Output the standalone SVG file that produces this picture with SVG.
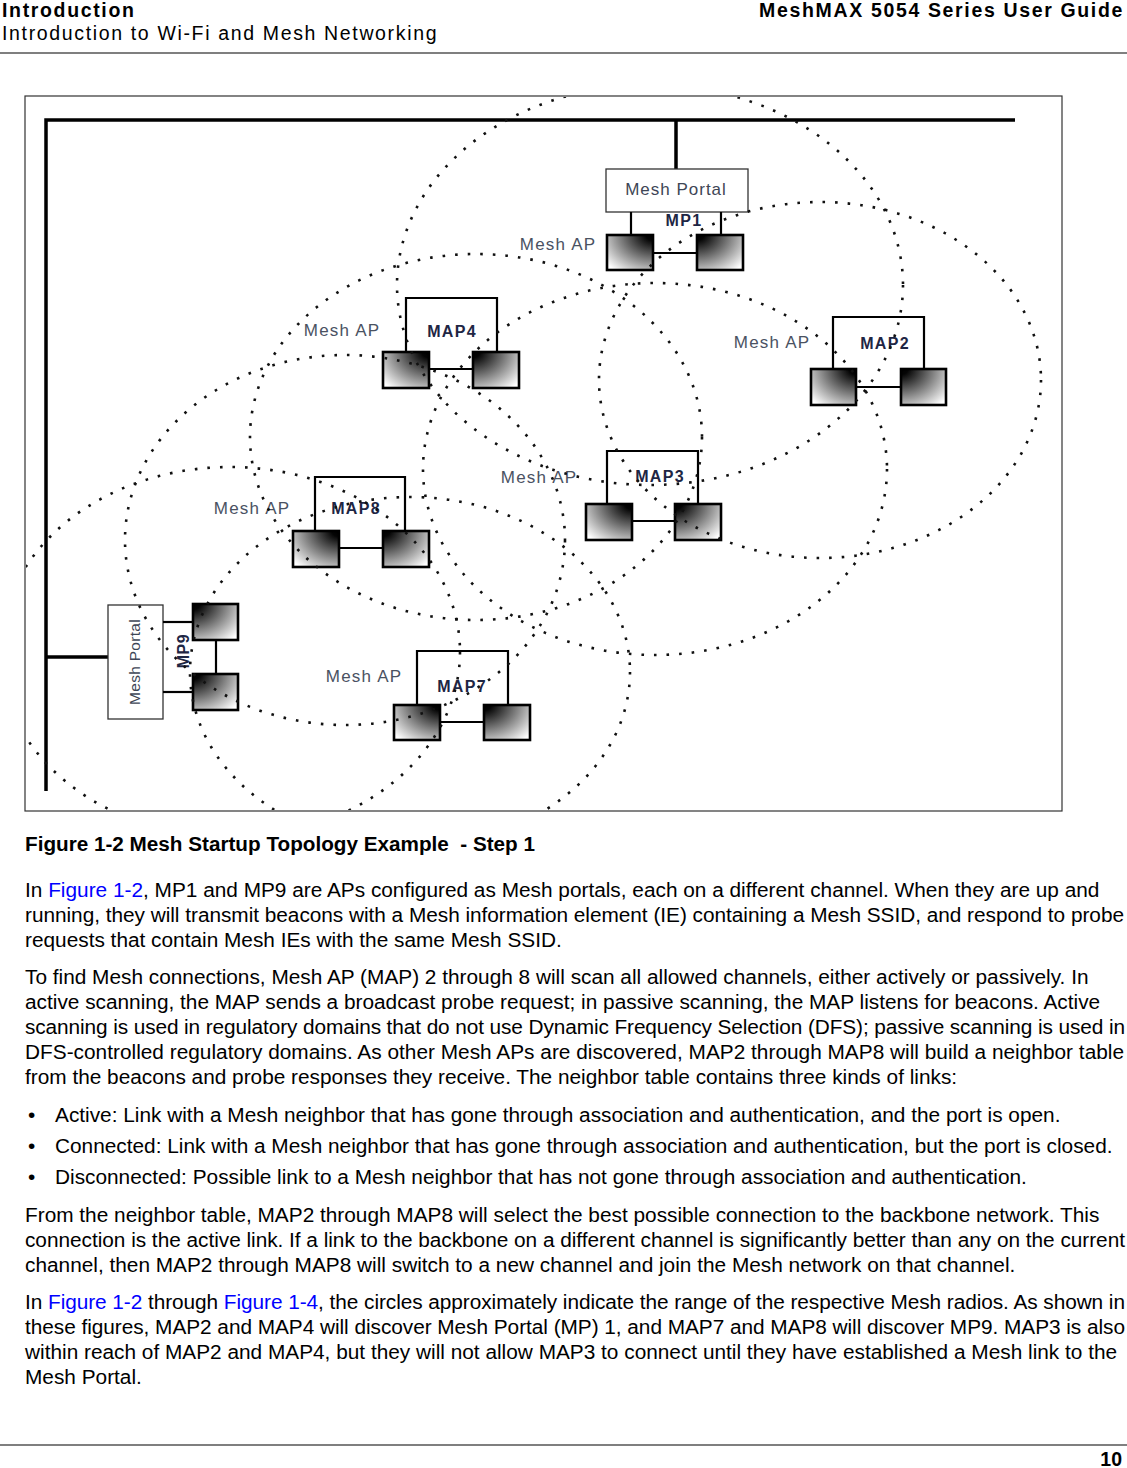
<svg xmlns="http://www.w3.org/2000/svg" width="1127" height="1468" viewBox="0 0 1127 1468">
<style>
.hdr{font-family:"Liberation Sans",Arial,sans-serif;font-size:19.5px;letter-spacing:1.65px;fill:#000}
.b{font-weight:bold}
.body{font-family:"Liberation Sans",Arial,sans-serif;font-size:20.82px;fill:#000}
.link{fill:#0000ff}
.cap{font-family:"Liberation Sans",Arial,sans-serif;font-size:20.7px;font-weight:bold;fill:#000}
.ap{font-family:"Liberation Sans",Arial,sans-serif;font-size:17px;letter-spacing:1.2px;fill:#4a5262;text-anchor:middle}
.portal{font-family:"Liberation Sans",Arial,sans-serif;font-size:17px;letter-spacing:1px;fill:#3e4656;text-anchor:middle}
.nl{font-family:"Liberation Sans",Arial,sans-serif;font-size:16px;font-weight:bold;letter-spacing:1.3px;fill:#1e2644;text-anchor:middle}
.bb{stroke:#000;stroke-width:3.5;fill:none}
.ln{stroke:#000;stroke-width:2.2;fill:none}
.pbox{stroke:#333;stroke-width:1.3;fill:#fff}
.sub{stroke:#000;stroke-width:2.6}
.rng{fill:none;stroke:#111;stroke-width:2.6;stroke-dasharray:2.6 10}
</style>
<defs>
<radialGradient id="gTR" cx="1" cy="0" r="1.3" fx="1" fy="0">
<stop offset="0" stop-color="#000"/>
<stop offset="0.12" stop-color="#050505"/>
<stop offset="1" stop-color="#fff"/>
</radialGradient>
<radialGradient id="gTL" cx="0" cy="0" r="1.3" fx="0" fy="0">
<stop offset="0" stop-color="#000"/>
<stop offset="0.12" stop-color="#050505"/>
<stop offset="1" stop-color="#fff"/>
</radialGradient>
<clipPath id="fig"><rect x="26" y="97" width="1035" height="713"/></clipPath>
</defs>
<rect width="1127" height="1468" fill="#fff"/>

<g id="header">
<text class="hdr b" x="2" y="17">Introduction</text>
<text class="hdr b" x="1124" y="17" text-anchor="end">MeshMAX 5054 Series User Guide</text>
<text class="hdr" x="2" y="40">Introduction to Wi-Fi and Mesh Networking</text>
<line x1="0" y1="53" x2="1127" y2="53" stroke="#000" stroke-width="1.2"/>
</g>

<rect x="25" y="96" width="1037" height="715" fill="#fff" stroke="#333" stroke-width="1.2"/>

<g id="connectors">
<polyline class="bb" points="1015,120 46,120 46,791"/>
<line class="bb" x1="676" y1="120" x2="676" y2="169"/>
<line class="bb" x1="46" y1="657" x2="108" y2="657"/>
</g>

<g id="MP1">
<rect class="pbox" x="606" y="169" width="142" height="43"/>
<text class="portal" x="676" y="195">Mesh Portal</text>
<line class="ln" x1="631" y1="212" x2="631" y2="235"/>
<line class="ln" x1="721" y1="212" x2="721" y2="235"/>
<line class="ln" x1="653" y1="253" x2="697" y2="253"/>
<rect class="sub" x="607" y="235" width="46" height="35" fill="url(#gTR)"/>
<rect class="sub" x="697" y="235" width="46" height="35" fill="url(#gTL)"/>
<text class="nl" x="684" y="226">MP1</text>
<text class="ap" x="558" y="250">Mesh AP</text>
</g>

<g id="MAP4">
<path class="ln" d="M406,352V298H497V352"/>
<line class="ln" x1="429" y1="369" x2="473" y2="369"/>
<rect class="sub" x="383" y="352" width="46" height="36" fill="url(#gTR)"/>
<rect class="sub" x="473" y="352" width="46" height="36" fill="url(#gTL)"/>
<text class="nl" x="452" y="337">MAP4</text>
<text class="ap" x="342" y="336">Mesh AP</text>
</g>

<g id="MAP2">
<path class="ln" d="M833,369V317H924V369"/>
<line class="ln" x1="856" y1="387" x2="901" y2="387"/>
<rect class="sub" x="811" y="369" width="45" height="36" fill="url(#gTR)"/>
<rect class="sub" x="901" y="369" width="45" height="36" fill="url(#gTL)"/>
<text class="nl" x="885" y="349">MAP2</text>
<text class="ap" x="772" y="348">Mesh AP</text>
</g>

<g id="MAP3">
<path class="ln" d="M607,504V451H698V504"/>
<line class="ln" x1="632" y1="521" x2="675" y2="521"/>
<rect class="sub" x="586" y="504" width="46" height="36" fill="url(#gTR)"/>
<rect class="sub" x="675" y="504" width="46" height="36" fill="url(#gTL)"/>
<text class="nl" x="660" y="482">MAP3</text>
<text class="ap" x="539" y="483">Mesh AP</text>
</g>

<g id="MAP8">
<path class="ln" d="M315,531V477H405V531"/>
<line class="ln" x1="339" y1="548" x2="383" y2="548"/>
<rect class="sub" x="293" y="531" width="46" height="36" fill="url(#gTR)"/>
<rect class="sub" x="383" y="531" width="46" height="36" fill="url(#gTL)"/>
<text class="nl" x="356" y="514">MAP8</text>
<text class="ap" x="252" y="514">Mesh AP</text>
</g>

<g id="MP9">
<rect class="pbox" x="108" y="605" width="55" height="114"/>
<text class="portal" x="135" y="667" style="font-size:15.5px;letter-spacing:0.3px" transform="rotate(-90 135 662)">Mesh Portal</text>
<line class="ln" x1="163" y1="622" x2="193" y2="622"/>
<line class="ln" x1="163" y1="692" x2="193" y2="692"/>
<line class="ln" x1="216" y1="640" x2="216" y2="674"/>
<rect class="sub" x="193" y="604" width="45" height="36" fill="url(#gTL)"/>
<rect class="sub" x="193" y="674" width="45" height="36" fill="url(#gTL)"/>
<text class="nl" x="183" y="657" style="letter-spacing:0.5px" transform="rotate(-90 183 651)">MP9</text>
</g>

<g id="MAP7">
<path class="ln" d="M417,705V651H508V705"/>
<line class="ln" x1="440" y1="722" x2="483" y2="722"/>
<rect class="sub" x="394" y="705" width="46" height="35" fill="url(#gTR)"/>
<rect class="sub" x="484" y="705" width="46" height="35" fill="url(#gTL)"/>
<text class="nl" x="462" y="692">MAP7</text>
<text class="ap" x="364" y="682">Mesh AP</text>
</g>

<g id="ranges" clip-path="url(#fig)">
<ellipse class="rng" cx="650" cy="285" rx="253" ry="200"/>
<ellipse class="rng" cx="820" cy="380" rx="221" ry="178"/>
<ellipse class="rng" cx="655" cy="469" rx="232" ry="186"/>
<ellipse class="rng" cx="476" cy="437" rx="226" ry="183"/>
<ellipse class="rng" cx="410" cy="672" rx="220" ry="175"/>
<ellipse class="rng" cx="345" cy="540" rx="220" ry="185"/>
<ellipse class="rng" cx="230" cy="652" rx="230" ry="185"/>
</g>

<g id="caption">
<text class="cap" x="25" y="851" xml:space="preserve">Figure 1-2 Mesh Startup Topology Example  - Step 1</text>
</g>

<g id="bodytext" class="body">
<text x="25" y="897">In <tspan class="link">Figure 1-2</tspan>, MP1 and MP9 are APs configured as Mesh portals, each on a different channel. When they are up and</text>
<text x="25" y="922" textLength="1099">running, they will transmit beacons with a Mesh information element (IE) containing a Mesh SSID, and respond to probe</text>
<text x="25" y="947">requests that contain Mesh IEs with the same Mesh SSID.</text>
<text x="25" y="984">To find Mesh connections, Mesh AP (MAP) 2 through 8 will scan all allowed channels, either actively or passively. In</text>
<text x="25" y="1009">active scanning, the MAP sends a broadcast probe request; in passive scanning, the MAP listens for beacons. Active</text>
<text x="25" y="1034" textLength="1100">scanning is used in regulatory domains that do not use Dynamic Frequency Selection (DFS); passive scanning is used in</text>
<text x="25" y="1059" textLength="1099">DFS-controlled regulatory domains. As other Mesh APs are discovered, MAP2 through MAP8 will build a neighbor table</text>
<text x="25" y="1084">from the beacons and probe responses they receive. The neighbor table contains three kinds of links:</text>
<text x="28" y="1122">•</text>
<text x="55" y="1122">Active: Link with a Mesh neighbor that has gone through association and authentication, and the port is open.</text>
<text x="28" y="1153">•</text>
<text x="55" y="1153">Connected: Link with a Mesh neighbor that has gone through association and authentication, but the port is closed.</text>
<text x="28" y="1184">•</text>
<text x="55" y="1184">Disconnected: Possible link to a Mesh neighbor that has not gone through association and authentication.</text>
<text x="25" y="1222">From the neighbor table, MAP2 through MAP8 will select the best possible connection to the backbone network. This</text>
<text x="25" y="1247" textLength="1100">connection is the active link. If a link to the backbone on a different channel is significantly better than any on the current</text>
<text x="25" y="1272">channel, then MAP2 through MAP8 will switch to a new channel and join the Mesh network on that channel.</text>
<text x="25" y="1309" textLength="1100">In <tspan class="link">Figure 1-2</tspan> through <tspan class="link">Figure 1-4</tspan>, the circles approximately indicate the range of the respective Mesh radios. As shown in</text>
<text x="25" y="1334" textLength="1100">these figures, MAP2 and MAP4 will discover Mesh Portal (MP) 1, and MAP7 and MAP8 will discover MP9. MAP3 is also</text>
<text x="25" y="1359">within reach of MAP2 and MAP4, but they will not allow MAP3 to connect until they have established a Mesh link to the</text>
<text x="25" y="1384">Mesh Portal.</text>
</g>

<g id="footer">
<line x1="0" y1="1445" x2="1127" y2="1445" stroke="#000" stroke-width="1.2"/>
<text class="hdr b" x="1122" y="1466" text-anchor="end" style="letter-spacing:0">10</text>
</g>
</svg>
